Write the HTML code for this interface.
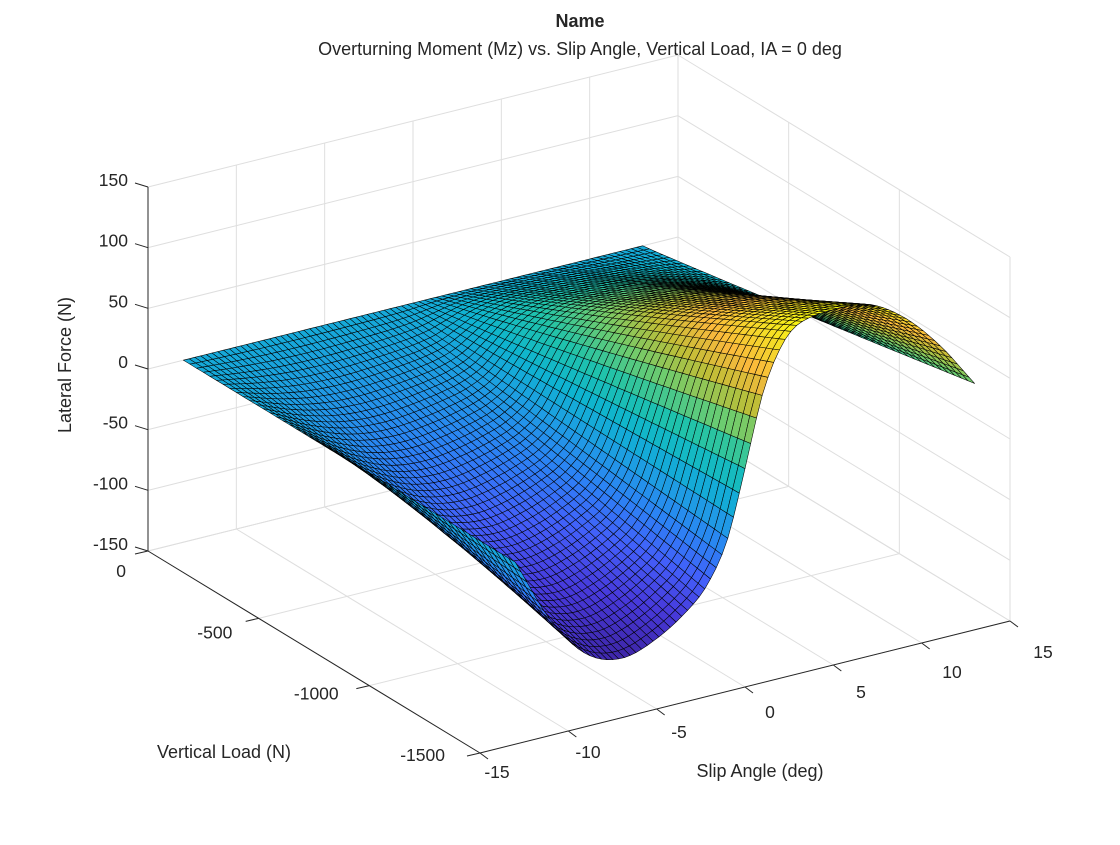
<!DOCTYPE html>
<html><head><meta charset="utf-8"><style>
html,body{margin:0;padding:0;background:#fff;}
svg text{font-family:"Liberation Sans",Arial,sans-serif;fill:#262626;}
</style></head><body>
<svg id="chart" width="1120" height="840" viewBox="0 0 1120 840" xmlns="http://www.w3.org/2000/svg">
<rect width="1120" height="840" fill="#fff"/>
<g id="grid"></g>
<g id="surf"></g>
<g id="axes"></g>
<text x="580" y="27" text-anchor="middle" font-size="18" font-weight="bold">Name</text>
<text x="580" y="55" text-anchor="middle" font-size="18">Overturning Moment (Mz) vs. Slip Angle, Vertical Load, IA = 0 deg</text>
<text transform="translate(71,365) rotate(-90)" text-anchor="middle" font-size="18">Lateral Force (N)</text>
<text x="224" y="758" text-anchor="middle" font-size="18">Vertical Load (N)</text>
<text x="760" y="777" text-anchor="middle" font-size="18">Slip Angle (deg)</text>
</svg>
<script>
// Data: Mz profile at full load (-1500 N) vs slip angle, and load scaling
const slipSamples = [-13,-11,-9,-7,-5,-3,-2,-1,0,1,2,3,5,7,9,11,13];
const mzAtFullLoad = [0,-55,-90,-101,-92,-72,-55,-25,30,88,122,138,143,140,122,92,53];
const loadRange = [0,-1500];
const slipRange = [-13,13];
const loadExponent = 1.05;
const zTicks = [150,100,50,0,-50,-100,-150];
const loadTicks = [0,-500,-1000,-1500];
const slipTicks = [-15,-10,-5,0,5,10,15];

const NS='http://www.w3.org/2000/svg';
function P(s,L,z){const sf=(s+15)/30, lf=-L/1500, zf=(z+150)/300;
  return [148+530*sf+332*lf, 551-132*sf+202*lf-364*zf];}
function depth(s,L,z){return -0.12*(s+15)/30+0.193*(-L/1500)+0.151*(z+150)/300;}
function mk(tag,attrs,parent){const e=document.createElementNS(NS,tag);for(const k in attrs)e.setAttribute(k,attrs[k]);parent.appendChild(e);return e;}
function line(a,b,stroke,w,parent,name){const e=mk('line',{x1:a[0],y1:a[1],x2:b[0],y2:b[1],stroke:stroke,'stroke-width':w},parent);
  
  
  return e;}
function profile(s){const xs=slipSamples,ys=mzAtFullLoad;
  if(s<=xs[0])return ys[0]; if(s>=xs[xs.length-1])return ys[ys.length-1];
  let i=0; while(s>xs[i+1])i++;
  const t=(s-xs[i])/(xs[i+1]-xs[i]);
  const m=k=>{const a=Math.max(0,k-1),b=Math.min(xs.length-1,k+1);return (ys[b]-ys[a])/(xs[b]-xs[a])*(xs[i+1]-xs[i]);};
  const p0=ys[i],p1=ys[i+1],m0=m(i),m1=m(i+1);
  const t2=t*t,t3=t2*t;
  return (2*t3-3*t2+1)*p0+(t3-2*t2+t)*m0+(-2*t3+3*t2)*p1+(t3-t2)*m1;}
function mz(s,L){const l=L/loadRange[1];return profile(s)*Math.pow(l,loadExponent);}

const g=document.getElementById('grid'); const gc='#dedede';
zTicks.forEach(z=>{line(P(-15,0,z),P(15,0,z),gc,1,g,'z-gridline-back');line(P(15,0,z),P(15,-1500,z),gc,1,g,'z-gridline-side');});
slipTicks.forEach(s=>{line(P(s,0,-150),P(s,0,150),gc,1,g,'slip-gridline-back');line(P(s,0,-150),P(s,-1500,-150),gc,1,g,'slip-gridline-floor');});
loadTicks.forEach(L=>{line(P(15,L,-150),P(15,L,150),gc,1,g,'load-gridline-side');line(P(-15,L,-150),P(15,L,-150),gc,1,g,'load-gridline-floor');});

const parula=[[62,38,168],[71,58,220],[67,95,250],[44,130,245],[30,157,227],[14,180,208],[32,195,170],[110,204,110],[190,190,55],[250,185,60],[245,220,40],[249,251,14]];
function cmap(t){t=Math.max(0,Math.min(1,t))*(parula.length-1);const i=Math.min(parula.length-2,Math.floor(t)),f=t-i;
  const c=parula[i].map((v,k)=>Math.round(v+(parula[i+1][k]-v)*f));return `rgb(${c[0]},${c[1]},${c[2]})`;}

const NSl=80, NL=50, sv=[], lv=[];
for(let i=0;i<=NSl;i++)sv.push(slipRange[0]+(slipRange[1]-slipRange[0])*i/NSl);
for(let i=0;i<=NL;i++)lv.push(loadRange[0]+(loadRange[1]-loadRange[0])*i/NL);
const Z=lv.map(L=>sv.map(s=>mz(s,L)));
let zmin=Infinity,zmax=-Infinity;Z.forEach(r=>r.forEach(v=>{zmin=Math.min(zmin,v);zmax=Math.max(zmax,v);}));
const quads=[];
for(let j=0;j<NL;j++)for(let i=0;i<NSl;i++){
  const pts=[[i,j],[i+1,j],[i+1,j+1],[i,j+1]];
  let zs=0,d=0;const sc=[];
  pts.forEach(([a,b])=>{const z=Z[b][a];zs+=z;d+=depth(sv[a],lv[b],z);sc.push(P(sv[a],lv[b],z));});
  quads.push({d:d/4,z:zs/4,sc});}
quads.sort((a,b)=>a.d-b.d);
const sg=document.getElementById('surf');
quads.forEach(q=>{const e=mk('polygon',{points:q.sc.map(p=>p[0].toFixed(1)+','+p[1].toFixed(1)).join(' '),fill:cmap((q.z-zmin)/(zmax-zmin)),stroke:'#000','stroke-width':0.55,'stroke-linejoin':'round'},sg);
  
  });

const ax=document.getElementById('axes'); const ac='#262626';
line(P(-15,0,-150),P(-15,0,150),ac,1,ax,'z-axis-line');
line(P(-15,0,-150),P(-15,-1500,-150),ac,1,ax,'load-axis-line');
line(P(-15,-1500,-150),P(15,-1500,-150),ac,1,ax,'slip-axis-line');
function txt(x,y,s,anchor,name){const e=mk('text',{x:x,y:y,'text-anchor':anchor,'font-size':17.5},ax);e.textContent=s;
  
  }
zTicks.forEach(z=>{const p=P(-15,0,z);line(p,[p[0]-13,p[1]-4],ac,1,ax,'z-tick');txt(p[0]-20,p[1]-1,String(z),'end','z-tick-label');});
loadTicks.forEach(L=>{const p=P(-15,L,-150);line(p,[p[0]-13,p[1]+3],ac,1,ax,'load-tick');
  const f=-L/1500;txt(p[0]-22-13*f,p[1]+26-18*f,String(L),'end','load-tick-label');});
slipTicks.forEach(s=>{const p=P(s,-1500,-150);line(p,[p[0]+8,p[1]+6],ac,1,ax,'slip-tick');
  const f=(s+15)/30;txt(497+546*f,778-120*f,String(s),'middle','slip-tick-label');});
</script>
</body></html>
